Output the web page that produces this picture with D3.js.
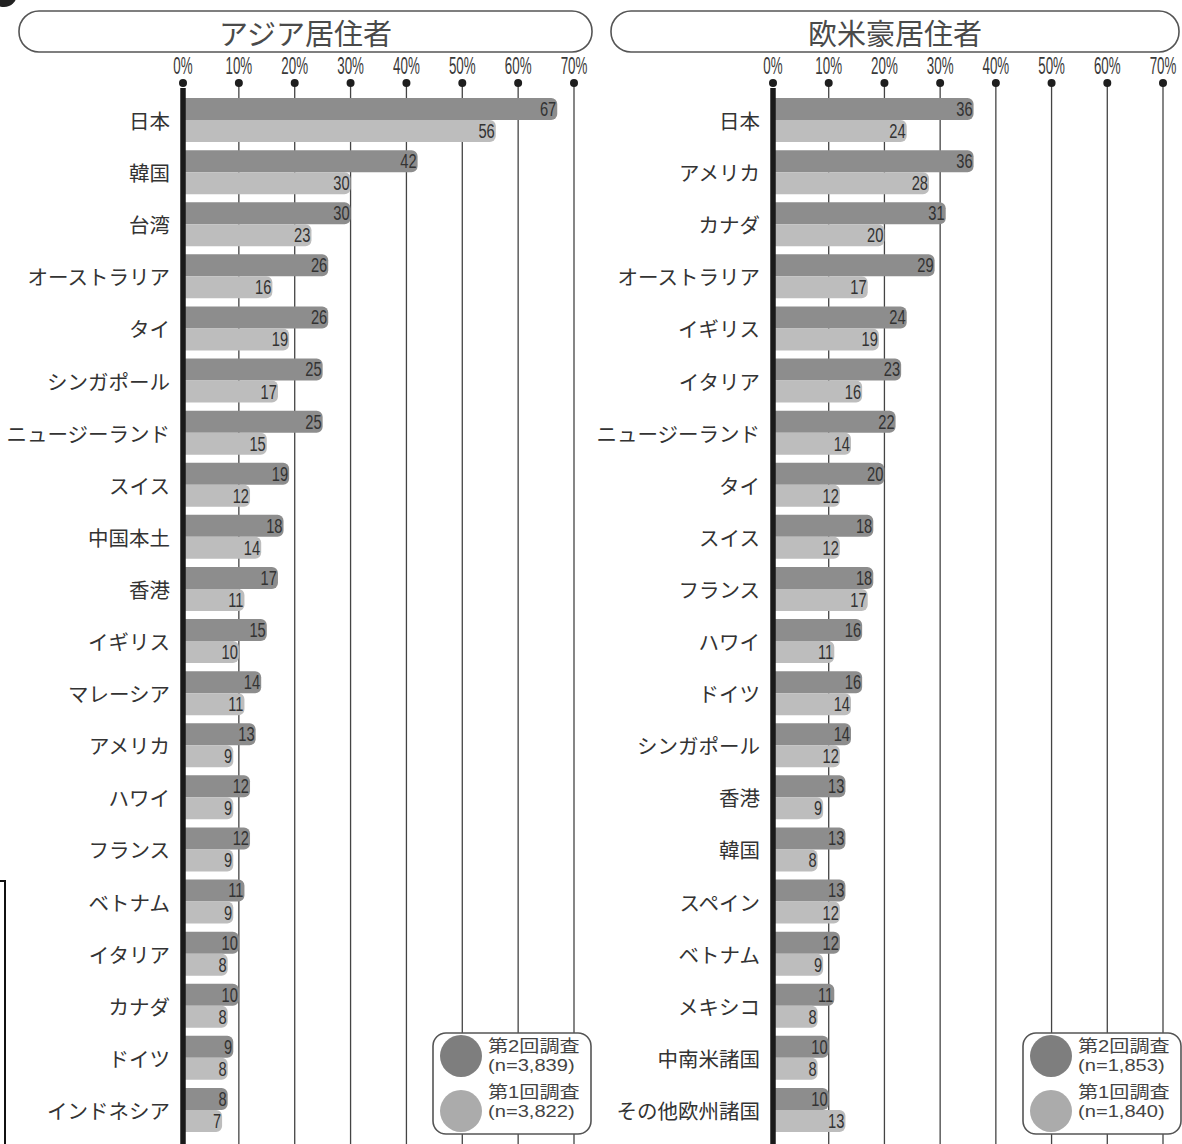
<!DOCTYPE html>
<html>
<head>
<meta charset="utf-8">
<script src="https://cdn.jsdelivr.net/npm/d3@7"></script>
<style>
  body { margin: 0; background: #fff; }
  svg { display: block; }
</style>
</head>
<body>
<div id="chart"></div>
<script>
// data
const ticks = [0, 10, 20, 30, 40, 50, 60, 70];

const asiaCountries = ['日本', '韓国', '台湾', 'オーストラリア', 'タイ', 'シンガポール', 'ニュージーランド',
  'スイス', '中国本土', '香港', 'イギリス', 'マレーシア', 'アメリカ', 'ハワイ', 'フランス', 'ベトナム',
  'イタリア', 'カナダ', 'ドイツ', 'インドネシア'];
const asiaSecond = [67, 42, 30, 26, 26, 25, 25, 19, 18, 17, 15, 14, 13, 12, 12, 11, 10, 10, 9, 8];
const asiaFirst = [56, 30, 23, 16, 19, 17, 15, 12, 14, 11, 10, 11, 9, 9, 9, 9, 8, 8, 8, 7];

const westCountries = ['日本', 'アメリカ', 'カナダ', 'オーストラリア', 'イギリス', 'イタリア', 'ニュージーランド',
  'タイ', 'スイス', 'フランス', 'ハワイ', 'ドイツ', 'シンガポール', '香港', '韓国', 'スペイン', 'ベトナム',
  'メキシコ', '中南米諸国', 'その他欧州諸国'];
const westSecond = [36, 36, 31, 29, 24, 23, 22, 20, 18, 18, 16, 16, 14, 13, 13, 13, 12, 11, 10, 10];
const westFirst = [24, 28, 20, 17, 19, 16, 14, 12, 12, 17, 11, 14, 12, 9, 8, 12, 9, 8, 8, 13];

const seriesKeys = ['second', 'first'];
const legendAsia = ['第2回調査', '(n=3,839)', '第1回調査', '(n=3,822)'];
const legendWest = ['第2回調査', '(n=1,853)', '第1回調査', '(n=1,840)'];

// styles
const W = 1182;
const H = 1144;
const colors = { second: '#8d8d8d', first: '#bdbdbd' };
const legendColors = { second: '#7e7e7e', first: '#ababab' };
const jpFont = '"Noto Sans CJK JP", "Noto Sans", sans-serif';
const numFont = '"Liberation Sans", Arial, sans-serif';
const legendFont = '"Liberation Sans", "Noto Sans CJK JP", sans-serif';

const svg = d3.select('#chart')
  .append('svg')
  .attr('width', W)
  .attr('height', H);

// bits of the neighbouring figure cut off by the crop
svg.append('circle').attr('cx', 4).attr('cy', -6).attr('r', 13).attr('fill', '#222');
svg.append('path')
  .attr('d', 'M0,881H5V1144')
  .attr('fill', 'none')
  .attr('stroke', '#111')
  .attr('stroke-width', 2);

function roundedBar(x0, y, x1, h) {
  const r = Math.min(6, (x1 - x0) / 2, h / 2);
  return `M${x0},${y}H${x1 - r}A${r},${r} 0 0 1 ${x1},${y + r}`
    + `V${y + h - r}A${r},${r} 0 0 1 ${x1 - r},${y + h}H${x0}Z`;
}

function drawPanel(cfg) {
  const g = svg.append('g');
  const rows = cfg.countries.map((c, i) => ({ country: c, second: cfg.second[i], first: cfg.first[i] }));

  const x = d3.scaleLinear().domain([0, 70]).range(cfg.xRange);
  const y = d3.scaleBand()
    .domain(cfg.countries)
    .range([94, 94 + 52.1 * cfg.countries.length])
    .paddingInner(0.155)
    .paddingOuter(0.0775);
  const ySub = d3.scaleBand().domain(seriesKeys).range([0, y.bandwidth()]);

  // title pill
  const [p0, p1] = cfg.pill;
  g.append('rect')
    .attr('x', p0).attr('y', 11)
    .attr('width', p1 - p0).attr('height', 41)
    .attr('rx', 20)
    .attr('fill', '#fff')
    .attr('stroke', '#555')
    .attr('stroke-width', 1.6);
  g.append('text')
    .attr('x', (p0 + p1) / 2).attr('y', 32)
    .attr('text-anchor', 'middle')
    .attr('dominant-baseline', 'central')
    .attr('font-family', jpFont)
    .attr('font-size', 29)
    .attr('fill', '#4a4a4a')
    .text(cfg.title);

  // grid + tick labels
  g.append('g')
    .selectAll('line')
    .data(ticks.slice(1))
    .join('line')
    .attr('x1', (d) => x(d)).attr('x2', (d) => x(d))
    .attr('y1', 83).attr('y2', H)
    .attr('stroke', '#444')
    .attr('stroke-width', 1.3);

  g.append('g')
    .selectAll('circle')
    .data(ticks)
    .join('circle')
    .attr('cx', (d) => x(d)).attr('cy', 83)
    .attr('r', 4)
    .attr('fill', '#1e1e1e');

  g.append('g')
    .selectAll('text')
    .data(ticks)
    .join('text')
    .attr('transform', (d) => `translate(${x(d)},74) scale(0.58,1)`)
    .attr('text-anchor', 'middle')
    .attr('font-family', numFont)
    .attr('font-size', 23)
    .attr('fill', '#3a3a3a')
    .text((d) => `${d}%`);

  // bars
  const groups = g.append('g')
    .selectAll('g')
    .data(rows)
    .join('g')
    .attr('transform', (d) => `translate(0,${y(d.country)})`);

  groups.selectAll('path')
    .data((d) => seriesKeys.map((k) => ({ key: k, value: d[k] })))
    .join('path')
    .attr('d', (d) => roundedBar(x(0), ySub(d.key), x(d.value), ySub.bandwidth()))
    .attr('fill', (d) => colors[d.key]);

  // 0% axis
  g.append('line')
    .attr('x1', x(0)).attr('x2', x(0))
    .attr('y1', 88).attr('y2', H)
    .attr('stroke', '#1a1a1a')
    .attr('stroke-width', 5.5);

  groups.selectAll('text')
    .data((d) => seriesKeys.map((k) => ({ key: k, value: d[k] })))
    .join('text')
    .attr('transform', (d) => `translate(${x(d.value) - 1},${ySub(d.key) + ySub.bandwidth() / 2}) scale(0.7,1)`)
    .attr('text-anchor', 'end')
    .attr('dominant-baseline', 'central')
    .attr('font-family', numFont)
    .attr('font-size', 21)
    .attr('fill', '#333')
    .text((d) => d.value);

  // country labels
  g.append('g')
    .selectAll('text')
    .data(rows)
    .join('text')
    .attr('x', x(0) - 13)
    .attr('y', (d) => y(d.country) + y.bandwidth() / 2)
    .attr('text-anchor', 'end')
    .attr('dominant-baseline', 'central')
    .attr('font-family', jpFont)
    .attr('font-size', 20.5)
    .attr('fill', '#333')
    .text((d) => d.country);

  // legend
  const [lx, ly] = cfg.legendPos;
  const lg = g.append('g').attr('transform', `translate(${lx},${ly})`);
  lg.append('rect')
    .attr('width', 158).attr('height', 101)
    .attr('rx', 13)
    .attr('fill', '#fff')
    .attr('stroke', '#555')
    .attr('stroke-width', 1.6);
  lg.selectAll('circle')
    .data(seriesKeys)
    .join('circle')
    .attr('cx', 28)
    .attr('cy', (d, i) => 23 + i * 55)
    .attr('r', 21)
    .attr('fill', (d) => legendColors[d]);
  lg.selectAll('text')
    .data(cfg.legend)
    .join('text')
    .attr('transform', (d, i) => `translate(55,${13 + i * 19 + (i > 1 ? 8 : 0)}) scale(1.22,1)`)
    .attr('dominant-baseline', 'central')
    .attr('font-family', legendFont)
    .attr('font-size', 16.5)
    .attr('fill', '#444')
    .text((d) => d);
}

drawPanel({
  title: 'アジア居住者',
  pill: [19, 592],
  xRange: [183, 574],
  countries: asiaCountries,
  second: asiaSecond,
  first: asiaFirst,
  legend: legendAsia,
  legendPos: [433, 1033],
});

drawPanel({
  title: '欧米豪居住者',
  pill: [611, 1179],
  xRange: [773, 1163],
  countries: westCountries,
  second: westSecond,
  first: westFirst,
  legend: legendWest,
  legendPos: [1023, 1033],
});
</script>
</body>
</html>
